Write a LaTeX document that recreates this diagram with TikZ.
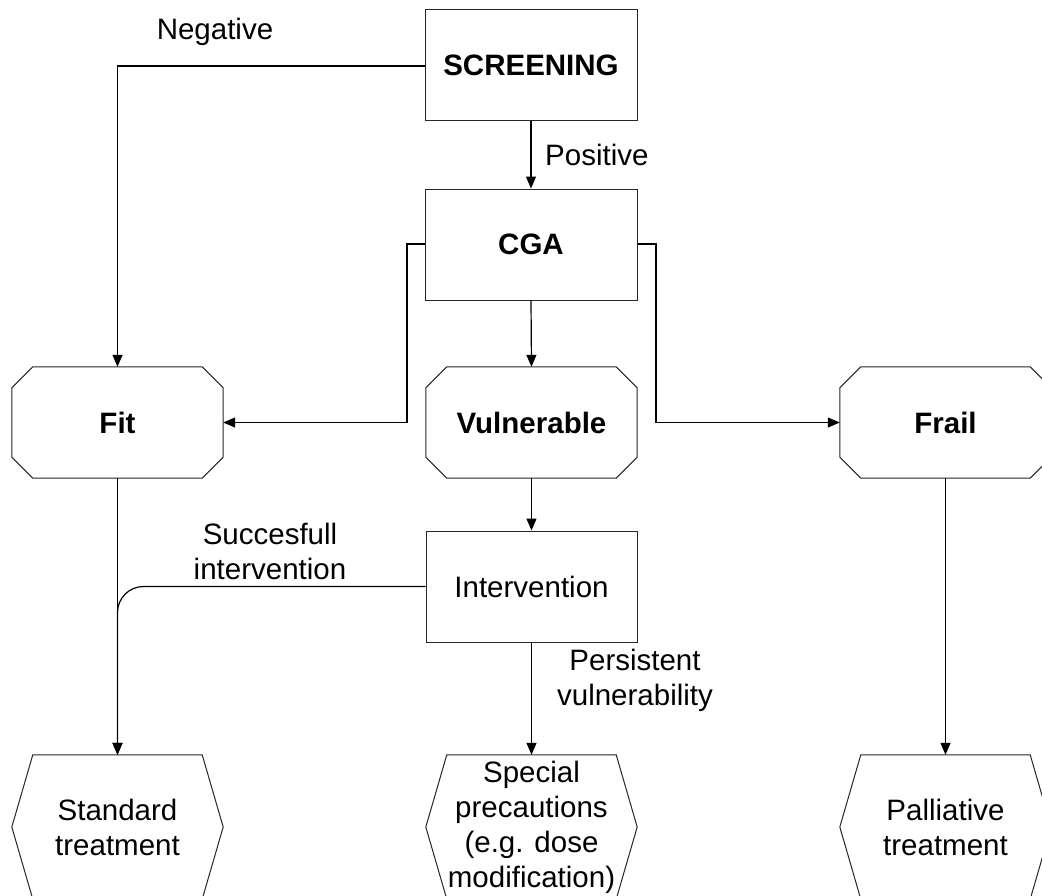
\documentclass[tikz,border=0pt]{standalone}
\usepackage{fontspec}
\setmainfont{Liberation Sans}
\usetikzlibrary{arrows.meta,calc}
\newcommand\octoline[1]{%
  \draw[shapeline] ([xshift=21pt]#1.north west) -- ([xshift=-21pt]#1.north east) -- ([yshift=-21pt]#1.north east) -- ([yshift=21pt]#1.south east) -- ([xshift=-21pt]#1.south east) -- ([xshift=21pt]#1.south west) -- ([yshift=21pt]#1.south west) -- ([yshift=-21pt]#1.north west) -- cycle;}
\newcommand\hexaline[1]{%
  \draw[shapeline] ([xshift=21pt]#1.north west) -- ([xshift=-21pt]#1.north east) -- (#1.east) -- ([xshift=-21pt]#1.south east) -- ([xshift=21pt]#1.south west) -- (#1.west) -- cycle;}
\begin{document}
\begin{tikzpicture}[x=1pt,y=-1pt,
  every node/.style={font=\fontsize{29.5}{35}\selectfont, inner sep=0pt},
  shapeline/.style={line width=1pt, draw=black!85},
  boxnode/.style={draw=black!85, line width=1pt, minimum width=212pt, minimum height=111pt, align=center},
  octonode/.style={minimum width=211pt, minimum height=111pt, align=center, font=\fontsize{29.5}{35}\selectfont\bfseries},
  hexanode/.style={minimum width=211pt, minimum height=144pt, align=center},
  conn/.style={line width=1.2pt, -{Triangle[length=12pt,width=10pt]}},
  plainconn/.style={line width=1.2pt},
  lbl/.style={align=center}]
\useasboundingbox (0,0) rectangle (1042,895);
\fill[white] (0,0) rectangle (1042,895);

\node[boxnode, font=\fontsize{29.5}{35}\selectfont\bfseries] (screen) at (531,65) {SCREENING};
\node[boxnode, font=\fontsize{29.5}{35}\selectfont\bfseries] (cga) at (531,244.5) {CGA};
\node[octonode] (fit) at (117.5,422.5) {Fit};
\node[octonode] (vul) at (531.5,422.5) {Vulnerable};
\node[octonode] (frail) at (945.5,422.5) {Frail};
\node[boxnode, minimum width=211pt] (interv) at (531.5,586.5) {Intervention};
\node[hexanode] (std) at (117.5,827) {Standard\\treatment};
\node[hexanode] (spec) at (531.5,827) {Special\\precautions\\(e.g. dose\\modification)};
\node[hexanode] (pall) at (945.5,827) {Palliative\\treatment};

\octoline{fit}
\octoline{vul}
\octoline{frail}
\hexaline{std}
\hexaline{spec}
\hexaline{pall}

\coordinate (negc) at (117.5,66);
\coordinate (cgal) at (407,244);
\coordinate (cgar) at (656,244);

\draw[conn] (screen.west |- negc) -- (negc) -- (fit.north);
\node[lbl] (neglbl) at (215,32) {Negative};

\draw[conn] (screen.south) -- (cga.north);
\node[lbl, anchor=west] (poslbl) at (545,155) {Positive};

\draw[conn] (cga.west |- cgal) -- (cgal) -- (cgal |- fit.east) -- (fit.east);
\draw[conn] (cga.east |- cgar) -- (cgar) -- (cgar |- frail.west) -- (frail.west);
\draw[conn] (cga.south) -- (vul.north);
\draw[conn] (vul.south) -- (interv.north);
\draw[conn] (fit.south) -- (std.north);
\draw[conn, rounded corners=26pt] (interv.west) -- (fit.south |- interv.west) -- (std.north);
\node[lbl] (suclbl) at (270,551) {Succesfull\\intervention};
\draw[conn] (interv.south) -- (spec.north);
\node[lbl] (perslbl) at (635,680) {Persistent\\vulnerability};
\draw[conn] (frail.south) -- (pall.north);
\end{tikzpicture}
\end{document}
